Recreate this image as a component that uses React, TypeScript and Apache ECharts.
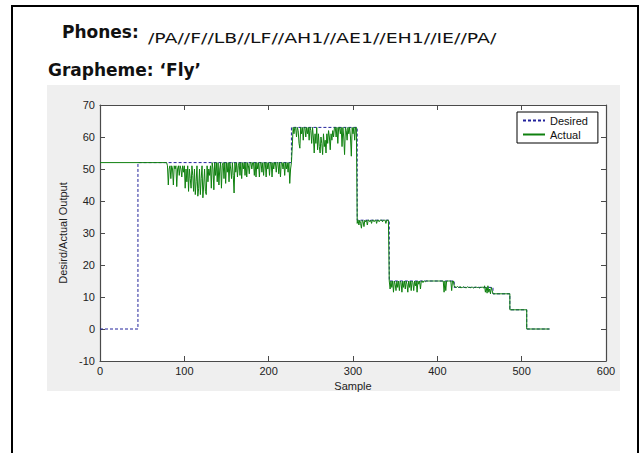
import React, { useEffect, useRef } from "react";
import * as echarts from "echarts";

// Desired output: step function (sample, value)
const desiredSamples = [0, 45, 45, 227, 227, 305, 305, 343, 343, 420, 420, 466, 466, 486, 486, 506, 506, 533];
const desiredValues = [0, 0, 52, 52, 63, 63, 34, 34, 15, 15, 13, 13, 11, 11, 6, 6, 0, 0];

// Actual output: flat start
const actualStartSamples = [0, 79];
const actualStartValues = [52, 52];

// Actual output: noisy segment around 52, starting at sample 80
const seg52Start = 80;
const seg52 = [
  51, 45, 50, 51, 47, 51, 50, 45, 51, 50,
  51, 44.5, 50, 51, 48, 51, 50, 47.5, 51, 49,
  51, 44, 50, 46, 51, 43, 50, 47, 44, 51,
  48, 43, 50, 42, 46, 51, 41.5, 44, 50, 42,
  47, 51, 41, 45, 50, 43, 42, 51, 46, 50,
  48, 51, 44, 52, 50, 43.5, 52, 48, 52, 46,
  52, 45, 50, 52, 44, 51, 52, 47, 52, 45.5,
  52, 49, 52, 46, 52, 50, 47, 52, 48, 42.5,
  52, 49, 52, 47.5, 51, 52, 48, 52, 47, 52,
  50, 52, 48, 52, 47.5, 52, 51, 48.5, 52, 52,
  50, 52, 52, 48, 52, 47.5, 52, 50, 52, 47.5,
  52, 52, 49, 52, 48, 52, 52, 47.5, 52, 50,
  52, 48, 52, 52, 47.5, 52, 50, 52, 52, 49,
  52, 52, 48.5, 52, 47.5, 52, 52, 50, 52, 48,
  52, 50, 52, 49, 52, 45.5, 50, 52,
];

// Actual output: noisy segment around 63, starting at sample 228
const seg63Start = 228;
const seg63 = [
  57, 63, 61, 63, 63, 60, 63, 62, 58, 56.5,
  63, 61, 63, 59, 63, 63, 60, 63, 61, 63,
  59, 63, 62, 58, 63, 60, 55, 61, 58, 63,
  56, 61, 57, 55, 60, 58, 54.5, 61, 57, 59,
  55, 61, 58, 62, 60, 56, 61, 59, 62, 60,
  63, 63, 60, 63, 58, 63, 63, 61, 63, 57,
  63, 60, 54.5, 63, 62, 59, 63, 61, 63, 60,
  54, 63, 61, 63, 59, 63, 63,
];

// Actual output: segment around 34, starting at sample 305
const seg34Start = 305;
const seg34 = [
  33, 34, 32.5, 34, 33, 31.5, 34, 33.5, 32, 34,
  33.5, 34, 32.5, 34, 34, 33.5, 34, 33, 34, 34,
  33.5, 34, 34, 33, 34, 34, 33.5, 34, 34, 34,
  33.5, 34, 34, 34, 33, 34, 34, 34,
];

// Actual output: segment around 15, starting at sample 343
const seg15Start = 343;
const seg15 = [
  15, 12.5, 15, 13, 15, 11.5, 15, 14, 12, 15,
  13, 15, 12, 15, 14.5, 11.5, 15, 13, 15, 12.5,
  15, 14, 11.5, 15, 13, 15, 12, 15, 14.5, 12,
  15, 13.5, 15, 11.5, 15, 14, 15, 12.5, 15, 15,
  14.5, 15, 15, 14.8, 15, 15, 15, 15, 15, 15,
  15, 15, 15, 15, 15, 15, 15, 15, 15, 15,
  15, 15, 15, 15, 15, 11.5, 15, 12, 15, 15,
  15, 15, 15, 15, 12, 15, 15,
];

// Actual output: segment around 13, starting at sample 420
const seg13Start = 420;
const seg13 = [
  13.5, 13, 13.2, 13, 13.3, 13, 13, 13.3, 12.8, 13,
  13, 13.2, 13, 13, 12.8, 13, 13.2, 13, 13, 12.9,
  13, 13.1, 13, 12.8, 13, 13, 13.2, 12.9, 13, 13,
  12.8, 13, 13, 13.1, 13, 12.8, 13.5, 11.5, 13, 11.2,
  13.5, 11.5, 12.5, 11, 13, 12,
];

// Actual output: final steps
const actualEndSamples = [466, 486, 486, 506, 506, 533];
const actualEndValues = [11, 11, 6, 6, 0, 0];

const xTicks = { min: 0, max: 600, interval: 100 };
const yTicks = { min: -10, max: 70, interval: 10 };

const titlePhones = "Phones:";
const phoneString = "/PA//F//LB//LF//AH1//AE1//EH1//IE//PA/";
const titleGrapheme = "Grapheme: \u2018Fly\u2019";

function pairs(xs: number[], ys: number[]) {
  return xs.map((x, i) => [x, ys[i]]);
}
function segment(start: number, vals: number[]) {
  return vals.map((v, i) => [start + i, v]);
}

export default function App() {
  const ref = useRef<HTMLDivElement>(null);
  useEffect(() => {
    if (!ref.current) return;
    const chart = echarts.init(ref.current, undefined, { renderer: "svg" });
    const desired = pairs(desiredSamples, desiredValues);
    const actual = [
      ...pairs(actualStartSamples, actualStartValues),
      ...segment(seg52Start, seg52),
      ...segment(seg63Start, seg63),
      ...segment(seg34Start, seg34),
      ...segment(seg15Start, seg15),
      ...segment(seg13Start, seg13),
      ...pairs(actualEndSamples, actualEndValues),
    ];
    const axisColor = "#4a4a4a";
    const font = "Liberation Sans, Arial, sans-serif";
    const commonX = {
      type: "value" as const,
      ...xTicks,
      axisLine: { show: true, onZero: false, lineStyle: { color: axisColor, width: 1.2 } },
      axisTick: { show: true, inside: true, length: 5, lineStyle: { color: axisColor } },
      splitLine: { show: false },
    };
    const commonY = {
      type: "value" as const,
      ...yTicks,
      axisLine: { show: true, onZero: false, lineStyle: { color: axisColor, width: 1.2 } },
      axisTick: { show: true, inside: true, length: 5, lineStyle: { color: axisColor } },
      splitLine: { show: false },
    };
    chart.setOption({
      animation: false,
      backgroundColor: "#ffffff",
      graphic: [
        {
          type: "rect",
          z: -10,
          shape: { x: 12, y: 6, width: 626, height: 470 },
          style: { fill: "#ffffff", stroke: "#000", lineWidth: 2 },
        },
        {
          type: "rect",
          z: -9,
          shape: { x: 47, y: 85, width: 573, height: 306 },
          style: { fill: "#efefef" },
        },
        {
          type: "text",
          left: 62,
          top: 23,
          style: { text: titlePhones, fontSize: 17, fontWeight: "bold", fontFamily: "DejaVu Sans", fill: "#111" },
        },
        {
          type: "text",
          x: 148,
          y: 31,
          scaleX: 1.35,
          style: { text: phoneString, fontSize: 14, fontFamily: "DejaVu Sans", fill: "#111" },
        },
        {
          type: "text",
          left: 48,
          top: 61,
          style: { text: titleGrapheme, fontSize: 17, fontWeight: "bold", fontFamily: "DejaVu Sans", fill: "#111" },
        },
      ],
      grid: {
        left: 100,
        top: 105,
        width: 506,
        height: 256,
        show: true,
        backgroundColor: "#ffffff",
        borderWidth: 0,
      },
      legend: {
        left: 517,
        top: 112,
        orient: "vertical",
        backgroundColor: "#ffffff",
        borderColor: "#000",
        borderWidth: 1,
        borderRadius: 0,
        padding: [3, 10, 3, 5],
        itemGap: 3,
        itemWidth: 22,
        itemHeight: 12,
        itemStyle: { opacity: 0 },
        textStyle: { fontSize: 11, fontFamily: font, color: "#111" },
        data: ["Desired", "Actual"],
      },
      xAxis: [
        {
          ...commonX,
          position: "bottom",
          name: "Sample",
          nameLocation: "middle",
          nameGap: 14,
          nameTextStyle: { fontSize: 11, fontFamily: font, color: "#222" },
          axisLabel: { show: true, fontSize: 11, fontFamily: font, color: "#222", margin: 4 },
        },
        {
          ...commonX,
          position: "top",
          axisLabel: { show: false },
        },
      ],
      yAxis: [
        {
          ...commonY,
          position: "left",
          name: "Desird/Actual Output",
          nameLocation: "middle",
          nameGap: 28,
          nameTextStyle: { fontSize: 11, fontFamily: font, color: "#222" },
          axisLabel: { show: true, fontSize: 11, fontFamily: font, color: "#222", margin: 5 },
        },
        {
          ...commonY,
          position: "right",
          axisLabel: { show: false },
        },
      ],
      series: [
        {
          name: "Desired",
          type: "line",
          data: desired,
          symbol: "none",
          lineStyle: { color: "#22229c", width: 1, type: [3, 2] },
          itemStyle: { color: "#22229c" },
        },
        {
          name: "Actual",
          type: "line",
          data: actual,
          symbol: "none",
          lineStyle: { color: "#0f800f", width: 1 },
          itemStyle: { color: "#0f800f" },
        },
      ],
    });
    return () => chart.dispose();
  }, []);
  return <div ref={ref} style={{ position: "fixed", left: 0, top: 0, width: 640, height: 453 }} />;
}
